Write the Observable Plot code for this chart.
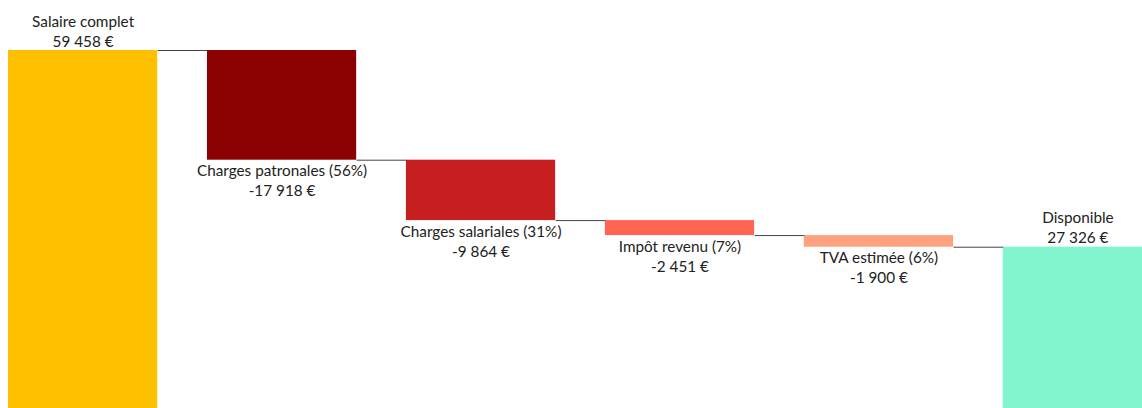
<!DOCTYPE html>
<html>
<head>
<meta charset="utf-8">
<script src="https://cdn.jsdelivr.net/npm/d3@7"></script>
<script src="https://cdn.jsdelivr.net/npm/@observablehq/plot@0.6"></script>
<style>
  html, body { margin: 0; padding: 0; overflow: hidden; background: white; }
</style>
</head>
<body>
<div id="chart"></div>
<script>
const categories = ["Salaire complet", "Charges patronales (56%)", "Charges salariales (31%)", "Impôt revenu (7%)", "TVA estimée (6%)", "Disponible"];
const values = [59458, -17918, -9864, -2451, -1900, 27326];
const kinds = ["total", "delta", "delta", "delta", "delta", "total"];
const colors = ["#FFC000", "#8B0000", "#C71F1F", "#FF6552", "#FFA07E", "#82F5CF"];

const loc = d3.formatLocale({decimal: ",", thousands: " ", grouping: [3], currency: ["", " €"], minus: "-"});
const fmt = loc.format(",d");

let level = 0;
const rows = categories.map((name, i) => {
  let lo, hi, after;
  if (kinds[i] === "total") { lo = 0; hi = values[i]; after = values[i]; }
  else { const start = level; after = level + values[i]; lo = Math.min(start, after); hi = Math.max(start, after); }
  level = after;
  return {i, name, value: values[i], lo, hi, after, color: colors[i], label: name + "\n" + fmt(values[i]) + " €", pos: values[i] >= 0};
});
const connectors = rows.slice(0, -1).map(r => ({x1: r.i + 0.75, x2: r.i + 1, y: r.after}));

const chart = Plot.plot({
  width: 1142,
  height: 408,
  marginTop: 50,
  marginBottom: 0,
  marginLeft: 0,
  marginRight: 0,
  x: {domain: [0, 5.75], range: [8, 1152], axis: null},
  y: {domain: [0, 59458], range: [414, 50], axis: null},
  style: {fontFamily: "Lato, 'Noto Sans', sans-serif", fontSize: "15px", color: "#222", background: "white", overflow: "hidden"},
  marks: [
    Plot.rect(rows, {x1: d => d.i, x2: d => d.i + 0.75, y1: "lo", y2: "hi", fill: "color"}),
    Plot.link(connectors, {x1: "x1", x2: "x2", y1: "y", y2: "y", stroke: "#444", strokeWidth: 1}),
    Plot.text(rows.filter(d => d.pos), {x: d => d.i + 0.375, y: "hi", text: "label", lineAnchor: "bottom", lineHeight: 1.3, dy: -4, fill: "#222", fontSize: 15.3}),
    Plot.text(rows.filter(d => !d.pos), {x: d => d.i + 0.375, y: "lo", text: "label", lineAnchor: "top", lineHeight: 1.3, dy: 2, fill: "#222", fontSize: 15.3})
  ]
});
document.getElementById("chart").appendChild(chart);
</script>
</body>
</html>
